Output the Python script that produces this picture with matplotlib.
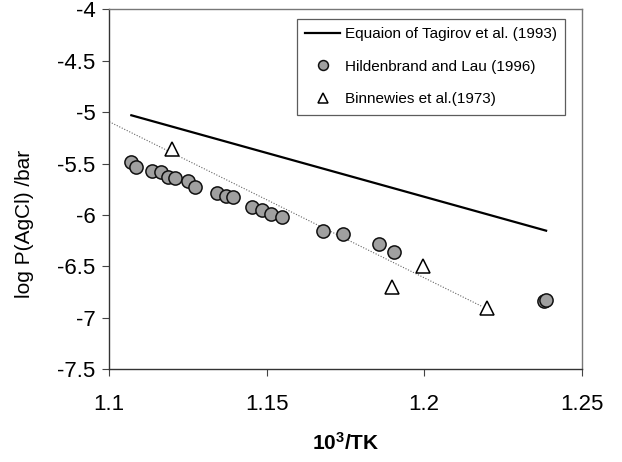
import matplotlib
matplotlib.use('Agg')
import matplotlib.pyplot as plt
import numpy as np

plt.rcParams['font.family'] = ['Liberation Sans', 'DejaVu Sans']
plt.rcParams['mathtext.fontset'] = 'custom'
plt.rcParams['mathtext.rm'] = 'Liberation Sans'
plt.rcParams['mathtext.bf'] = 'Liberation Sans:bold'

# Hildenbrand and Lau (1996) measurements
hl_x = [1.1069, 1.1085, 1.1137, 1.1163, 1.1187, 1.1209, 1.1249, 1.1272,
        1.1343, 1.1371, 1.1394, 1.1454, 1.1484, 1.1512, 1.1547, 1.1680,
        1.1743, 1.1857, 1.1904, 1.2380, 1.2386]
hl_y = [-5.48, -5.53, -5.575, -5.58, -5.627, -5.637, -5.666, -5.724,
        -5.783, -5.812, -5.822, -5.925, -5.951, -5.990, -6.022, -6.155,
        -6.185, -6.285, -6.357, -6.836, -6.826]

# Binnewies et al. (1973)
bw_x = [1.1198, 1.1897, 1.1995, 1.2198]
bw_y = [-5.36, -6.70, -6.50, -6.90]

# Tagirov et al. (1993) equation, end points
tg_x = [1.107, 1.2387]
tg_y = [-5.03, -6.152]

# fitted trend through the data
fit_x = [1.1, 1.2185]
fit_y = [-5.093, -6.891]

fig = plt.figure(figsize=(6.22, 4.62), dpi=100)
ax = fig.add_axes([0.1757, 0.2006, 0.7595, 0.7792])

ax.plot(fit_x, fit_y, color='#666666', linewidth=0.8, linestyle=(0, (1, 1.5)))
ax.plot(tg_x, tg_y, color='black', linewidth=1.6,
        label='Equaion of Tagirov et al. (1993)')
ax.plot(hl_x, hl_y, linestyle='none', marker='o', markersize=9.5,
        markerfacecolor='#a0a0a0', markeredgecolor='#111111',
        markeredgewidth=1.1, label='Hildenbrand and Lau (1996)')
ax.plot(bw_x, bw_y, linestyle='none', marker='^', markersize=10,
        markerfacecolor='white', markeredgecolor='black',
        markeredgewidth=1.1, label='Binnewies et al.(1973)')

ax.set_xlim(1.1, 1.25)
ax.set_ylim(-7.5, -4)
ax.set_xticks([1.1, 1.15, 1.2, 1.25])
ax.set_xticklabels(['1.1', '1.15', '1.2', '1.25'])
ax.set_yticks(np.arange(-7.5, -3.9, 0.5))
ax.set_yticklabels(['-7.5', '-7', '-6.5', '-6', '-5.5', '-5', '-4.5', '-4'])

ax.tick_params(axis='both', direction='out', length=5, width=0.8,
               color='#444444', labelsize=16)
ax.tick_params(axis='x', pad=13)
ax.tick_params(axis='y', pad=5)

for side in ['left', 'bottom']:
    ax.spines[side].set_color('#333333')
    ax.spines[side].set_linewidth(1.0)
for side in ['top', 'right']:
    ax.spines[side].set_color('#777777')
    ax.spines[side].set_linewidth(1.0)

ax.set_xlabel(r'$\mathbf{10^3/TK}$', fontsize=15)
ax.xaxis.set_label_coords(0.5, -0.175)
ax.set_ylabel('log P(AgCl) /bar', fontsize=15)
ax.yaxis.set_label_coords(-0.16, 0.404)

leg = ax.legend(loc='upper left', bbox_to_anchor=(0.3967, 0.973), fontsize=11,
                frameon=True, fancybox=False, edgecolor='#333333',
                borderaxespad=0, handlelength=2.3, handletextpad=0.3,
                labelspacing=1.2, borderpad=0.55, markerscale=0.75)
leg.get_frame().set_linewidth(0.9)

fig.savefig('out.png', dpi=100, facecolor='white')
